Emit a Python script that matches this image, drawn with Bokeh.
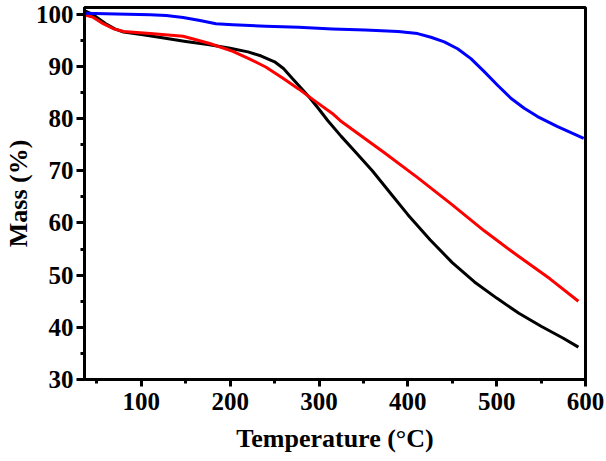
from bokeh.plotting import figure
from bokeh.models import Range1d, FixedTicker
from bokeh.embed import file_html
from bokeh.resources import INLINE

# Temperature (°C) / Mass (%)
temp_black = [36, 45, 50, 60, 70, 80, 100, 120, 150, 175, 200, 220, 235, 250, 260, 270, 280, 290, 300, 310,
              325, 340, 360, 380, 400, 425, 450, 475, 500, 525, 550, 575, 592]
mass_black = [100.7, 100.0, 99.4, 98.2, 97.2, 96.6, 96.1, 95.6, 94.8, 94.2, 93.5, 92.8, 92.0, 90.9, 89.6, 87.7, 85.8, 83.9, 81.8, 79.6,
              76.6, 73.8, 70.0, 65.8, 61.6, 56.8, 52.4, 48.7, 45.6, 42.7, 40.2, 37.9, 36.2]

temp_red = [36, 46, 57, 69, 80, 110, 147, 177, 203, 221, 240, 259, 277, 296, 315, 324, 374, 411, 449, 486, 523, 560, 592]
mass_red = [99.9, 99.4, 98.2, 97.2, 96.7, 96.3, 95.8, 94.4, 92.9, 91.5, 89.9, 87.8, 85.7, 83.3, 81.0, 79.6, 73.4, 68.7, 63.6, 58.5, 53.8, 49.3, 45.0]

temp_blue = [36, 72, 110, 128, 147, 166, 184, 203, 240, 277, 315, 352, 389, 411, 426, 441, 456, 471, 486, 501, 516, 531, 546, 568, 598]
mass_blue = [100.2, 100.06, 99.9, 99.75, 99.4, 98.8, 98.2, 98.0, 97.7, 97.5, 97.2, 97.0, 96.7, 96.3, 95.6, 94.7, 93.4, 91.5, 89.0, 86.4, 83.9, 82.0, 80.4, 78.5, 76.2]

x_ticks = [100, 200, 300, 400, 500, 600]
x_minor = [50, 150, 250, 350, 450, 550]
y_ticks = [30, 40, 50, 60, 70, 80, 90, 100]
y_minor = [35, 45, 55, 65, 75, 85, 95]

FONT = "Liberation Serif"

p = figure(width=604, height=460, output_backend="svg", toolbar_location=None,
           x_range=Range1d(36, 600), y_range=Range1d(30, 101.3),
           min_border_left=0, min_border_right=19, min_border_top=7, min_border_bottom=81,
           x_axis_label="Temperature (°C)", y_axis_label="Mass (%)")

p.line(temp_black, mass_black, line_color="#000000", line_width=3, line_join="round")
p.line(temp_red, mass_red, line_color="#ff0000", line_width=3, line_join="round")
p.line(temp_blue, mass_blue, line_color="#0000ff", line_width=3, line_join="round")

p.xgrid.visible = False
p.ygrid.visible = False
p.outline_line_color = "black"
p.outline_line_width = 3
p.outline_line_alpha = 1.0

p.xaxis.ticker = FixedTicker(ticks=x_ticks, minor_ticks=x_minor)
p.yaxis.ticker = FixedTicker(ticks=y_ticks, minor_ticks=y_minor)

for ax in (p.xaxis[0], p.yaxis[0]):
    ax.axis_line_width = 3
    ax.axis_line_color = "black"
    ax.major_tick_line_width = 3
    ax.minor_tick_line_width = 3
    ax.major_tick_in = 0
    ax.minor_tick_in = 0
    ax.minor_tick_out = 4
    ax.major_label_text_font = FONT
    ax.major_label_text_font_style = "bold"
    ax.major_label_text_font_size = "25px"
    ax.major_label_text_color = "black"
    ax.axis_label_text_font = FONT
    ax.axis_label_text_font_style = "bold"
    ax.axis_label_text_font_size = "26px"
    ax.axis_label_text_color = "black"

p.xaxis.major_tick_out = 7
p.yaxis.major_tick_out = 8
p.xaxis.major_label_standoff = 6
p.yaxis.major_label_standoff = 3
p.xaxis.axis_label_standoff = 11
p.yaxis.axis_label_standoff = 0

open("out.html", "w").write(file_html(p, INLINE))
